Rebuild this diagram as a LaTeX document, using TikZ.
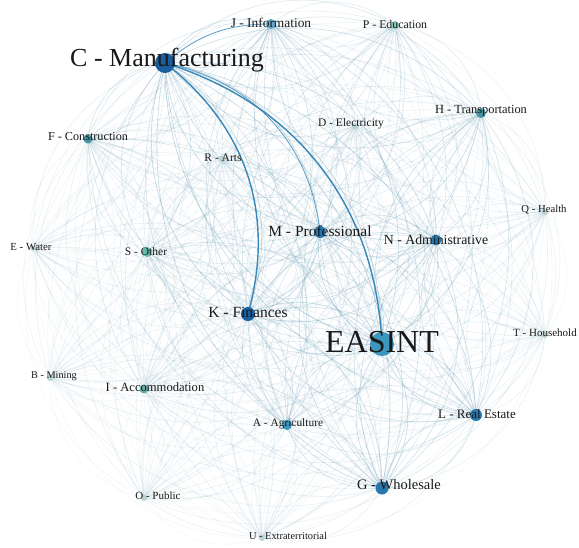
\documentclass[tikz,border=0pt]{standalone}
\usepackage{fontspec}
\setmainfont{Liberation Serif}
\definecolor{edgec}{RGB}{110,162,185}
\definecolor{strongc}{RGB}{55,135,185}
\definecolor{dkblue}{RGB}{25,95,160}
\definecolor{midblue}{RGB}{40,120,175}
\definecolor{ltblue}{RGB}{60,150,190}
\definecolor{tealc}{RGB}{70,150,165}
\definecolor{greenc}{RGB}{100,185,170}
\definecolor{palec}{RGB}{185,212,210}
\definecolor{txt}{RGB}{25,25,25}
\begin{document}
\begin{tikzpicture}[x=1pt,y=-1pt,
  edge/.style={draw=edgec, line width=0.6pt},
  strong/.style={draw=strongc, line width=1.4pt},
  medium/.style={draw=strongc, line width=0.9pt, draw opacity=0.75},
  dot/.style={circle, inner sep=0pt, minimum size=#1},
  lab/.style={font=\fontsize{#1}{#1}\selectfont, text=txt, inner sep=0pt}]
\useasboundingbox (0,0) rectangle (579,547);
\fill[white] (0,0) rectangle (579,547);
% positions
\coordinate (C) at (165,63);
\coordinate (EA) at (382,344);
\coordinate (K) at (248,314);
\coordinate (M) at (320,232);
\coordinate (N) at (436,240);
\coordinate (G) at (382,488);
\coordinate (L) at (476,415);
\coordinate (H) at (481,113);
\coordinate (J) at (271,24);
\coordinate (A) at (287,425);
\coordinate (F) at (88,139);
\coordinate (S) at (147,252);
\coordinate (I) at (144,389);
\coordinate (P) at (395,25);
\coordinate (D) at (355,126);
\coordinate (R) at (222,159);
\coordinate (Q) at (545,212);
\coordinate (T) at (545,335);
\coordinate (E) at (33,248);
\coordinate (B) at (50,378);
\coordinate (O) at (144,498);
\coordinate (U) at (262,538);
\def\nodelist{C/1,EA/1,K/.9,M/.85,N/.8,G/.85,L/.8,H/.7,J/.75,A/.6,F/.55,S/.55,I/.45,P/.5,D/.45,R/.4,Q/.32,T/.28,E/.28,B/.28,O/.28,U/.28}
% faint edges, both directions
\foreach \a/\wa [count=\i] in \nodelist {
  \foreach \b/\wb [count=\j] in \nodelist {
    \ifnum\i=\j\relax\else
      \pgfmathsetmacro\op{0.42*\wa*\wb+0.04}
      \draw[edge, draw opacity=\op] (\a) to[bend right=38] (\b);
    \fi
  }
}
% emphasised edges
\draw[medium] (C) to[bend left=20] (J);
\draw[medium] (C) to[bend left=36] (M);
\draw[strong] (C) to[bend left=34] (K);
\draw[strong] (C) to[bend left=35] (EA);
% nodes
\node[dot=20pt, fill=dkblue] (nC) at (C) {};
\node[dot=24pt, fill=ltblue] (nEA) at (EA) {};
\node[dot=14pt, fill=dkblue] (nK) at (K) {};
\node[dot=12pt, fill=midblue] (nM) at (M) {};
\node[dot=11pt, fill=midblue] (nN) at (N) {};
\node[dot=13pt, fill=midblue] (nG) at (G) {};
\node[dot=12pt, fill=midblue] (nL) at (L) {};
\node[dot=10pt, fill=tealc] (nH) at (H) {};
\node[dot=10pt, fill=ltblue!80] (nJ) at (J) {};
\node[dot=10pt, fill=ltblue] (nA) at (A) {};
\node[dot=9pt, fill=tealc] (nF) at (F) {};
\node[dot=10pt, fill=greenc] (nS) at (S) {};
\node[dot=9pt, fill=greenc!80!gray] (nI) at (I) {};
\node[dot=8pt, fill=greenc!80] (nP) at (P) {};
\node[dot=6pt, fill=palec] (nD) at (D) {};
\node[dot=7pt, fill=palec] (nR) at (R) {};
\node[dot=6pt, fill=palec] (nQ) at (Q) {};
\node[dot=6pt, fill=palec] (nT) at (T) {};
\node[dot=5pt, fill=palec] (nE) at (E) {};
\node[dot=6pt, fill=palec] (nB) at (B) {};
\node[dot=6pt, fill=palec] (nO) at (O) {};
\node[dot=6pt, fill=palec] (nU) at (U) {};
% labels
\node[lab=26] (tC) at (167,60) {C - Manufacturing};
\node[lab=32] (tEA) at (382,342) {EASINT};
\node[lab=15.5] (tK) at (248,312) {K - Finances};
\node[lab=15.5] (tM) at (320,231) {M - Professional};
\node[lab=13.8] (tN) at (436,240) {N - Administrative};
\node[lab=14.5] (tG) at (399,485) {G - Wholesale};
\node[lab=13] (tL) at (477,414) {L - Real Estate};
\node[lab=12.4] (tH) at (481,111) {H - Transportation};
\node[lab=13.4] (tJ) at (271,23) {J - Information};
\node[lab=11.4] (tA) at (288,424) {A - Agriculture};
\node[lab=12.2] (tF) at (88,137) {F - Construction};
\node[lab=11.5] (tS) at (146,252) {S - Other};
\node[lab=12.6] (tI) at (155,387) {I - Accommodation};
\node[lab=11.8] (tP) at (395,24) {P - Education};
\node[lab=11.5] (tD) at (351,124) {D - Electricity};
\node[lab=11.5] (tR) at (223,158) {R - Arts};
\node[lab=10.7] (tQ) at (544,210) {Q - Health};
\node[lab=11] (tT) at (545,333) {T - Household};
\node[lab=10.8] (tE) at (31,247) {E - Water};
\node[lab=10.3] (tB) at (54,376) {B - Mining};
\node[lab=11] (tO) at (158,496) {O - Public};
\node[lab=10.4] (tU) at (288,536) {U - Extraterritorial};
\end{tikzpicture}
\end{document}
